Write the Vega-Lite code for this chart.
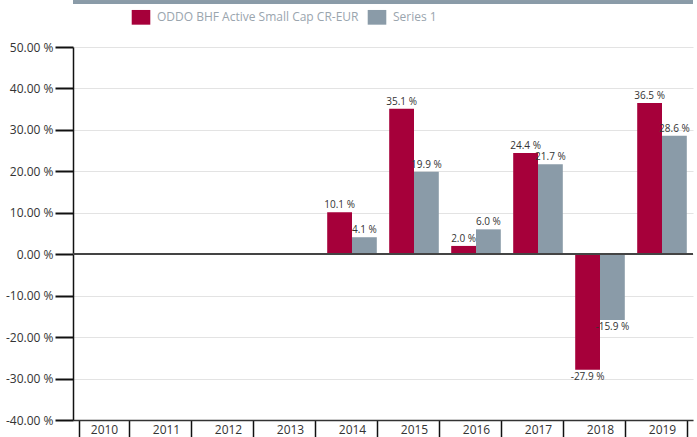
{
  "$schema": "https://vega.github.io/schema/vega-lite/v6.json",
  "width": 620,
  "height": 373,
  "padding": {"left": 5, "top": 0, "right": 0, "bottom": 0},
  "config": {
    "font": "Open Sans",
    "view": {"stroke": null},
    "axis": {"labelFont": "Open Sans", "labelColor": "#333333", "labelFontSize": 12}
  },
  "data": {
    "values": [
      {"year": "2010", "series": "ODDO BHF Active Small Cap CR-EUR", "v": null},
      {"year": "2010", "series": "Series 1", "v": null},
      {"year": "2011", "series": "ODDO BHF Active Small Cap CR-EUR", "v": null},
      {"year": "2011", "series": "Series 1", "v": null},
      {"year": "2012", "series": "ODDO BHF Active Small Cap CR-EUR", "v": null},
      {"year": "2012", "series": "Series 1", "v": null},
      {"year": "2013", "series": "ODDO BHF Active Small Cap CR-EUR", "v": null},
      {"year": "2013", "series": "Series 1", "v": null},
      {"year": "2014", "series": "ODDO BHF Active Small Cap CR-EUR", "v": 10.1},
      {"year": "2014", "series": "Series 1", "v": 4.1},
      {"year": "2015", "series": "ODDO BHF Active Small Cap CR-EUR", "v": 35.1},
      {"year": "2015", "series": "Series 1", "v": 19.9},
      {"year": "2016", "series": "ODDO BHF Active Small Cap CR-EUR", "v": 2.0},
      {"year": "2016", "series": "Series 1", "v": 6.0},
      {"year": "2017", "series": "ODDO BHF Active Small Cap CR-EUR", "v": 24.4},
      {"year": "2017", "series": "Series 1", "v": 21.7},
      {"year": "2018", "series": "ODDO BHF Active Small Cap CR-EUR", "v": -27.9},
      {"year": "2018", "series": "Series 1", "v": -15.9},
      {"year": "2019", "series": "ODDO BHF Active Small Cap CR-EUR", "v": 36.5},
      {"year": "2019", "series": "Series 1", "v": 28.6}
    ]
  },
  "transform": [
    {"calculate": "datum.v == null ? '' : replace(format(datum.v, '.1f'), '\u2212', '-') + ' %'", "as": "lab"}
  ],
  "layer": [
    {
      "mark": {"type": "bar"},
      "encoding": {
        "x": {
          "field": "year", "type": "nominal", "title": null,
          "scale": {"domain": ["2010", "2011", "2012", "2013", "2014", "2015", "2016", "2017", "2018", "2019"], "paddingInner": 0.2, "paddingOuter": 0.1},
          "axis": {
            "orient": "bottom", "tickBand": "extent", "tickSize": 18, "tickColor": "#111111", "tickWidth": 1.5,
            "domainColor": "#333333", "domainWidth": 1.5, "labelAngle": 0, "labelPadding": -14, "labelBaseline": "top",
            "grid": false
          }
        },
        "xOffset": {"field": "series", "type": "nominal", "scale": {"domain": ["ODDO BHF Active Small Cap CR-EUR", "Series 1"], "paddingInner": 0}},
        "y": {
          "field": "v", "type": "quantitative", "title": null,
          "scale": {"domain": [-40, 50], "nice": false, "zero": false},
          "axis": {
            "values": [-40, -30, -20, -10, 0, 10, 20, 30, 40, 50],
            "labelExpr": "replace(format(datum.value, '.2f'), '\u2212', '-') + ' %'",
            "tickSize": 18, "tickColor": "#111111", "tickWidth": 2,
            "domainColor": "#111111", "domainWidth": 1.5, "labelPadding": 2,
            "gridColor": "#e3e3e3", "gridWidth": 1
          }
        },
        "y2": {"datum": 0},
        "color": {
          "field": "series", "type": "nominal", "title": null,
          "scale": {"domain": ["ODDO BHF Active Small Cap CR-EUR", "Series 1"], "range": ["#a6003a", "#8a9ba8"]},
          "legend": {
            "orient": "none", "direction": "horizontal", "legendX": 60, "legendY": -38,
            "symbolType": "M-1.2,-0.95H1.2V0.95H-1.2Z", "symbolSize": 240, "symbolOpacity": 1,
            "labelFontSize": 12, "labelColor": "#9aa5ae", "labelFont": "Liberation Sans Narrow, Open Sans", "labelLimit": 0,
            "columnPadding": 8, "symbolStrokeWidth": 0, "labelOffset": 8
          }
        }
      }
    },
    {
      "transform": [{"filter": "datum.v != null && datum.v >= 0"}],
      "mark": {"type": "text", "fontSize": 10, "color": "#333333", "baseline": "bottom", "dy": -2},
      "encoding": {
        "x": {"field": "year", "type": "nominal"},
        "xOffset": {"field": "series", "type": "nominal"},
        "y": {"field": "v", "type": "quantitative"},
        "text": {"field": "lab", "type": "nominal"}
      }
    },
    {
      "transform": [{"filter": "datum.v != null && datum.v < 0"}],
      "mark": {"type": "text", "fontSize": 10, "color": "#333333", "baseline": "top", "dy": 2},
      "encoding": {
        "x": {"field": "year", "type": "nominal"},
        "xOffset": {"field": "series", "type": "nominal"},
        "y": {"field": "v", "type": "quantitative"},
        "text": {"field": "lab", "type": "nominal"}
      }
    },
    {
      "mark": {"type": "rule", "color": "#444444", "strokeWidth": 1.5},
      "encoding": {"y": {"datum": 0}}
    },
    {
      "mark": {"type": "rule", "color": "#8a9ba8", "strokeWidth": 3, "clip": false},
      "encoding": {"y": {"datum": 60.8}}
    }
  ]
}
